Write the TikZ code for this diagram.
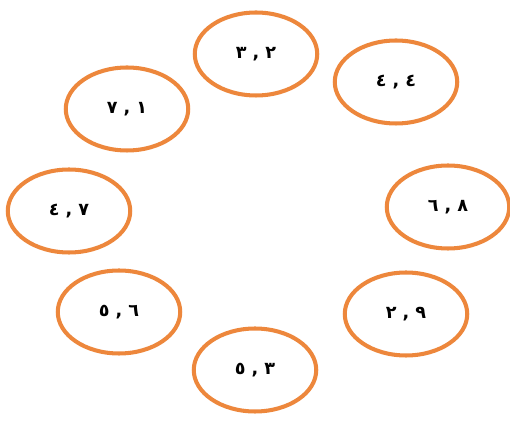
\documentclass[tikz,border=0pt]{standalone}
\usepackage{fontspec}
\usetikzlibrary{shapes.geometric}
\TeXXeTstate=1
\newfontfamily\arabicfont[Script=Arabic]{DejaVu Sans}
\definecolor{ringorange}{RGB}{237,135,60}
\newcommand{\pairlabel}[1]{\arabicfont\beginR #1\endR}

\begin{document}
\begin{tikzpicture}[x=0.02cm,y=-0.02cm,
  ring/.style={ellipse,draw=ringorange,line width=2.3pt,fill=white,
    minimum width=2.45cm,minimum height=1.66cm,
    font=\arabicfont\bfseries}
]
\useasboundingbox (0,0) rectangle (510,428);
\node[ring] (n32) at (256,54) {\pairlabel{٢ , ٣}};
\node[ring] (n44) at (396,82) {\pairlabel{٤ , ٤}};
\node[ring] (n71) at (127,109) {\pairlabel{١ , ٧}};
\node[ring] (n47) at (69,211) {\pairlabel{٧ , ٤}};
\node[ring] (n68) at (448,207) {\pairlabel{٨ , ٦}};
\node[ring] (n56) at (119,312) {\pairlabel{٦ , ٥}};
\node[ring] (n29) at (406,314) {\pairlabel{٩ , ٢}};
\node[ring] (n53) at (255,370) {\pairlabel{٣ , ٥}};
\end{tikzpicture}
\end{document}
